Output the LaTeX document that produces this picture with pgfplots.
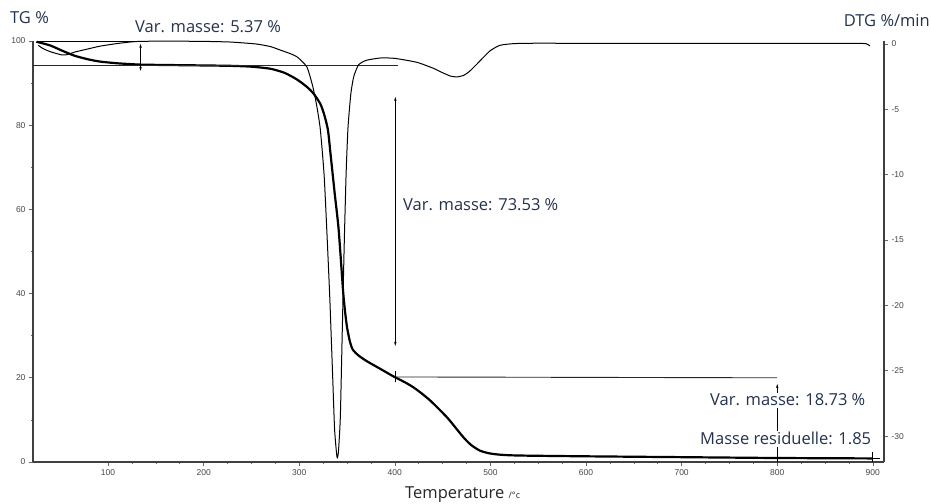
\documentclass[border=0pt]{standalone}
\usepackage{pgfplots}
\pgfplotsset{compat=1.18}
\usepackage{fontspec}
\setmainfont{Open Sans}
\newfontfamily\tickfont{Liberation Sans}
\usetikzlibrary{arrows.meta}
\definecolor{txt}{RGB}{36,50,78}
\definecolor{tickgray}{RGB}{70,70,70}

\pgfplotstableread{
T TG
25 99.8
29 99.6
40 98.9
52 97.7
65 96.5
80 95.6
92 95.1
110 94.7
133 94.4
160 94.3
197 94.2
228 94.1
250 93.9
270 93.4
285 92.4
298 90.8
308 89.1
315 87.5
322 85.1
326 82.6
330 78.9
333 72.6
337 64.0
341 55.8
344 46.6
346 40.2
348 35.6
350 32.0
353 28.6
356 26.7
362 25.3
371 23.9
385 22.1
398 20.4
410 19.0
419 17.8
428 16.3
437 14.6
446 12.6
455 10.5
463 8.3
472 5.8
480 4.0
489 2.7
498 2.1
507 1.8
520 1.6
541 1.5
600 1.35
700 1.15
800 0.95
900 0.85
}\tgdata

\pgfplotstableread{
T DTG
27 -0.1
32 -0.35
40 -0.6
52 -0.84
58 -0.8
65 -0.62
80 -0.36
92 -0.16
110 0.04
123 0.15
133 0.2
160 0.22
200 0.2
228 0.15
255 0.0
270 -0.2
280 -0.46
290 -0.72
298 -1.0
308 -1.76
314 -3.2
318 -4.6
322 -6.5
326 -10.0
329 -14.5
332 -19.5
335 -25.5
337 -29.5
339.5 -31.6
341 -31.2
343 -28.5
345 -22.0
347 -15.5
349 -10.0
351 -6.4
354 -3.8
357 -2.5
362 -1.6
370 -1.25
385 -1.07
400 -1.1
423 -1.4
440 -1.85
450 -2.2
458 -2.45
465 -2.52
472 -2.4
478 -2.1
485 -1.6
492 -1.07
500 -0.5
510 -0.1
525 0.03
550 0.06
600 0.05
700 0.05
800 0.05
880 0.05
893 0.02
897 -0.15
}\dtgdata

\begin{document}
\begin{tikzpicture}
\useasboundingbox (0,0) rectangle (931pt,503pt);
\pgfplotsset{
  common/.style={
    at={(33pt,41pt)}, anchor=south west,
    scale only axis, width=851pt, height=421pt,
    xmin=21.5, xmax=911.7,
    tick align=outside,
    major tick length=4pt, minor tick length=2pt,
    tick label style={font=\tickfont\fontsize{8.5}{9}\selectfont, text=tickgray},
    axis line style={line width=1.2pt, draw=black!75},
    tick style={line width=0.6pt, draw=black!60},
    /pgf/number format/assume math mode=true,
  }
}
\begin{axis}[common,
  ymin=0, ymax=100,
  axis x line*=bottom, axis y line*=left,
  xtick={100,200,...,900}, minor x tick num=3,
  ytick={0,20,...,100}, minor y tick num=1,
]
\addplot[black, line width=2.2pt, smooth, tension=0.4] table[x=T, y=TG] {\tgdata};
% annotation lines
\draw[black, line width=1.3pt] (axis cs:27,99.8) -- (axis cs:134,99.8);
\draw[black!85, line width=0.8pt] (axis cs:21.5,94.1) -- (axis cs:403,94.1);
\draw[black, line width=0.7pt, {Stealth[length=4pt,width=2.5pt]}-{Stealth[length=4pt,width=2.5pt]}] (axis cs:134,99.3) -- (axis cs:134,92.9);
\draw[black, line width=0.7pt, {Stealth[length=4pt,width=2.5pt]}-{Stealth[length=4pt,width=2.5pt]}] (axis cs:400.5,86.7) -- (axis cs:400.5,27.6);
\draw[black!85, line width=0.9pt] (axis cs:400.5,20.2) -- (axis cs:800,20.0);
\draw[black, line width=0.9pt] (axis cs:400.5,18.9) -- (axis cs:400.5,21.5);
\draw[black, line width=0.8pt, -{Stealth[length=4pt,width=2.5pt]}] (axis cs:800,0.2) -- (axis cs:800,18.5);
\draw[black, line width=0.9pt] (axis cs:800,-0.2) -- (axis cs:800,2.2);
\draw[black, line width=1pt] (axis cs:900,-0.3) -- (axis cs:900,2.3);
\draw[black, line width=1pt] (axis cs:893,0.9) -- (axis cs:907,0.9);
\end{axis}
\begin{axis}[common,
  ymin=-31.98, ymax=0.23,
  axis x line=none, axis y line*=right,
  ytick={0,-5,...,-30},
]
\addplot[black, line width=1.0pt, smooth, tension=0.35] table[x=T, y=DTG] {\dtgdata};
\end{axis}
% texts
\node[anchor=base west, text=txt, font=\fontsize{16.5}{18}\selectfont, inner sep=0pt] at (10pt,479pt) {TG \%};
\node[anchor=base west, text=txt, font=\fontsize{16.5}{18}\selectfont, inner sep=0pt] at (135pt,470pt) {Var. masse: 5.37 \%};
\node[anchor=base east, text=txt, font=\fontsize{16.5}{18}\selectfont, inner sep=0pt] at (930pt,476pt) {DTG \%/min};
\node[anchor=base west, text=txt, font=\fontsize{16.5}{18}\selectfont, inner sep=0pt] at (403pt,292pt) {Var. masse: 73.53 \%};
\node[anchor=base west, text=txt, font=\fontsize{16.5}{18}\selectfont, fill=white, inner sep=1.5pt] at (708.5pt,97pt) {Var. masse: 18.73 \%};
\node[anchor=base west, text=txt, font=\fontsize{16.5}{18}\selectfont, fill=white, inner sep=1.5pt] at (698.5pt,58pt) {Masse residuelle: 1.85};
\node[anchor=base west, text=black!85, font=\fontsize{16.5}{18}\selectfont, inner sep=0pt] at (405pt,5pt) {Temperature {\fontsize{9}{10}\selectfont /°c}};
\end{tikzpicture}
\end{document}
